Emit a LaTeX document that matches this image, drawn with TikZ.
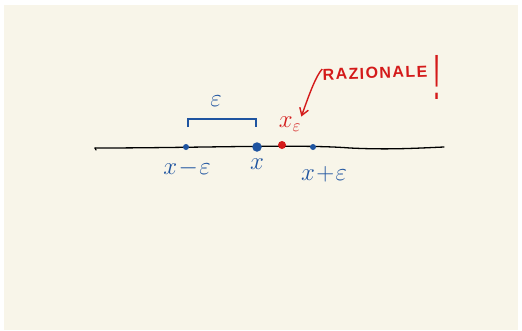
\documentclass[tikz,border=0pt]{standalone}
\usepackage{fontspec}
\setmainfont{Liberation Sans}
\usepackage{tikz}
\usetikzlibrary{arrows.meta,positioning}
\definecolor{sfondo}{HTML}{F8F5E9}
\definecolor{blu}{HTML}{1F54A0}
\definecolor{rosso}{HTML}{D41A1A}
\newfontfamily\scritta[LetterSpace=9]{Liberation Sans}
\tikzset{
  punto/.style={circle,fill=blu,inner sep=0pt},
  etic/.style={text=blu,inner sep=0pt,font=\fontsize{23}{26}\selectfont},
  rosa/.style={text=rosso,inner sep=0pt},
  retta/.style={line width=1.3pt,line cap=round},
  freccia/.style={rosso,line width=1.4pt,-{Straight Barb[length=7pt,width=9pt]}},
}

\begin{document}
\begin{tikzpicture}[x=1pt,y=-1pt]
  \useasboundingbox (0,0) rectangle (522,330);
  \fill[sfondo] (4,5) rectangle (518,330);
  % retta reale
  \coordinate (sx) at (95,148);
  \coordinate (dx) at (444,147);
  \draw[retta] (sx) .. controls (200,148) and (300,144) .. (350,148)
    .. controls (390,150) and (420,148) .. (dx);
  \draw[retta] (sx) -- ++(1,2);
  % punti
  \foreach \n/\px/\sz in {xm/186/6,x0/257/9.5,xp/313/6}
    \node[punto,minimum size=\sz pt] (\n) at (\px,147) {};
  \node[circle,fill=rosso,inner sep=0pt,minimum size=8pt] (xe) at (282,145) {};
  % etichette
  \node[etic] (lxm) at (187,168) {$x\!-\!\varepsilon$};
  \node[etic] (lx0) at (257,164) {$x$};
  \node[etic] (lxp) at (324,174) {$x\!+\!\varepsilon$};
  \node[rosa,font=\fontsize{23}{26}\selectfont] (lxe) at (290,124) {$x_\varepsilon$};
  % parentesi di ampiezza epsilon
  \coordinate (pa) at (188,127);
  \coordinate (pb) at (256,127);
  \coordinate (pc) at (188,119);
  \coordinate (pd) at (256,119);
  \draw[blu,line width=1.4pt] (pa) -- (pc) -- (pd) -- (pb);
  \node[etic] (leps) at (216,101) {$\varepsilon$};
  % commento
  \node[rosa,font=\scritta\bfseries\fontsize{16}{18}\selectfont,rotate=2] (raz) at (375,73) {RAZIONALE};
  \node[rosa,font=\fontsize{64}{64}\selectfont] (escl) at (437,77) {\scalebox{0.4}[1]{!}};
  \draw[freccia] (raz.north west) .. controls (316,76) and (310,92) .. (lxe.north east);
\end{tikzpicture}
\end{document}
